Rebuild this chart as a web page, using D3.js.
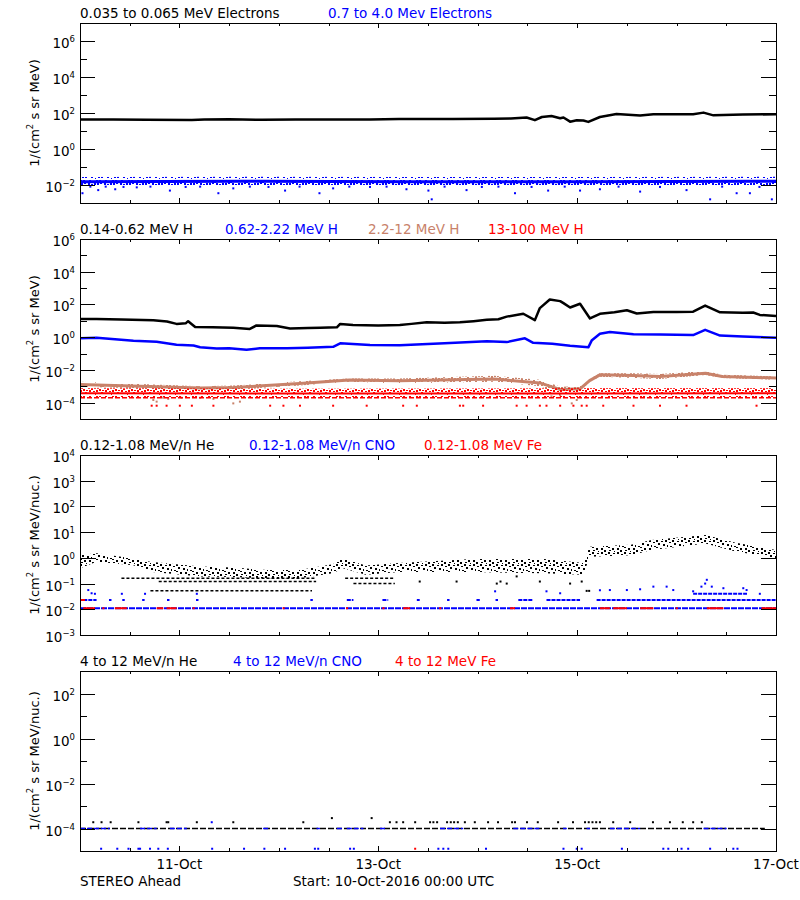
<!DOCTYPE html>
<html>
<head>
<meta charset="utf-8">
<script src="https://cdn.jsdelivr.net/npm/d3@7"></script>
<style>
  body { margin: 0; background: #fff; }
  svg { display: block; font-family: "DejaVu Sans", sans-serif; font-size: 13.5px; }
</style>
</head>
<body>
<script>
// ---- data (hours since 10-Oct-2016 00:00 UTC, flux values) ----
const START = Date.UTC(2016, 9, 10);
const SPAN_H = 168;
const LABEL_DAYS = [1, 3, 5, 7];

// panel 1 : electrons
const E_LOW = [[0,44],[8,43],[16,42],[27,41],[30,44],[36,45],[44,42],[52,43],[60,43],[70,44],[77,46],[90,47],
  [100,48],[104,50],[107.8,56],[109.8,40],[111.5,60],[113.8,68],[115.9,51],[116.7,56],[118.3,33],[119.9,40],
  [121.5,38],[122.7,32],[125.5,60],[129.5,88],[135.2,72],[138.4,85],[148,86],[150.5,105],[152.9,74],
  [160,82],[168,85]];
// [h, lo, core, hi]
const E_HIGH = [[0,0.010,0.015,0.028],[40,0.010,0.016,0.029],[80,0.010,0.015,0.028],
  [120,0.010,0.015,0.028],[168,0.010,0.016,0.029]];
const E_HIGH_PTS = [[0.6,0.0035],[2.5,0.0081],[4.4,0.0052],[6.2,0.0081],[8.5,0.0058],[10.5,0.0078],
  [13.7,0.0074],[17,0.0081],[21.7,0.0049],[25.5,0.0078],[29,0.0081],[33.4,0.0035],[37,0.0065],
  [41,0.0081],[45.5,0.0078],[49.5,0.0049],[53,0.0081],[57.8,0.0035],[61.1,0.0065],[65,0.0081],
  [70,0.0078],[74,0.0081],[78.8,0.0058],[84.1,0.0049],[84.9,0.0016],[88,0.0081],[93.3,0.0052],
  [97,0.0078],[101,0.0081],[105,0.0035],[109,0.0078],[113,0.0049],[117,0.0081],[120.7,0.0049],
  [125.5,0.0058],[130,0.0081],[135.2,0.0043],[140,0.0078],[146.4,0.0052],[152.1,0.0016],
  [155,0.0081],[158.5,0.0035],[161.7,0.0035],[164,0.0078],[167,0.0016]];

// panel 2 : protons
const H_LOW = [[0,13],[4,13],[10,12],[17.7,11],[21,9],[23.3,6.5],[25.5,7],[26.1,9.5],[27.8,4.2],[32,4],[37,3.8],
  [41,3.2],[42.6,5.2],[47.5,4.8],[50.7,3.4],[55,3.6],[58,3.8],[62,4.0],[62.8,6.5],[65.9,5.6],[72,5.2],
  [77.2,5.5],[80,6.5],[83.7,8.1],[88,7.6],[91.7,8.1],[95,9.5],[98.2,11.5],[101,12.5],[103,18],[107,27],
  [109.8,11],[111,60],[113.4,200],[115.9,160],[116.7,120],[118.3,65],[120.7,110],[123.1,14],[125.5,27],
  [129,33],[132,44],[134.4,28],[138.4,35],[144,34],[148,36],[150.9,85],[154.5,33],[160,31],[162.5,32],
  [164.1,23],[168,20]];
const H_MID = [[0,0.85],[4,0.93],[12.9,0.6],[18.5,0.52],[23.3,0.34],[27.4,0.31],[29,0.24],[33,0.2],[36,0.21],
  [40.2,0.17],[43.4,0.21],[50,0.21],[55,0.23],[61.1,0.26],[62.8,0.42],[70,0.33],[77.2,0.32],[88,0.42],
  [98.2,0.57],[103,0.5],[107.4,0.85],[109.4,0.45],[114,0.4],[118.3,0.3],[122.7,0.24],[123.5,0.62],
  [125.5,1.6],[127.9,2.1],[133.6,1.5],[140,1.45],[148,1.35],[150.9,2.8],[154.5,1.25],[160,1.1],[168,0.93]];
const H_TAN = [[0,9.3e-4,1.3e-3,1.9e-3],[29,5.9e-4,7.9e-4,1.0e-3],[37,6.3e-4,8.3e-4,1.1e-3],
  [53,1.1e-3,1.5e-3,2.0e-3],[65,1.9e-3,2.4e-3,3.0e-3],[77,1.5e-3,2.2e-3,3.0e-3],[100,1.9e-3,2.8e-3,4.4e-3],
  [111,1.0e-3,1.6e-3,2.5e-3],[116,3.7e-4,6.3e-4,9.3e-4],[120.7,4.5e-4,7.0e-4,1.0e-3],
  [123,1.9e-3,2.2e-3,2.8e-3],[125.5,3.8e-3,5.0e-3,6.2e-3],[133.6,3.2e-3,4.5e-3,6.3e-3],
  [140,2.8e-3,4.0e-3,5.6e-3],[151,4.9e-3,6.3e-3,8.5e-3],[155,3.2e-3,4.0e-3,5.0e-3],[168,2.5e-3,3.2e-3,4.0e-3]];
const H_TAN_PTS = [[17.7,1.45e-4],[18.5,1.15e-4],[20.1,2e-4],[21.3,1.7e-4],[24.5,2e-4],[29,2e-4],
  [32.2,1.7e-4],[37,9e-5],[38.6,1.15e-4],[113.8,2.4e-4],[115.9,2.8e-4],[118.7,9e-5],[119.9,1.45e-4]];
const H_RED = [[0,2.2e-4,3.7e-4,7.5e-4],[60,2.2e-4,3.6e-4,7.0e-4],[120,2.2e-4,3.6e-4,7.5e-4],[168,2.2e-4,3.7e-4,7.5e-4]];
const H_RED_ROW = [[0,168,2.0e-4]];
const H_RED_PTS = [17.3,18.5,20.9,24.1,27,32.2,45.9,49.1,53.1,61.1,69.2,78,81.3,91.7,92.5,97.3,105.4,
  107.8,111,112.6,115.9,119.1,121.1,122.3,126.3,133.6,140,146.4,163.3].map(h => [h, 6.5e-5]);

// panel 3 : low energy ions
const HE_LOW = [[0,0.39,1.3],[4,0.7,1.5],[12.9,0.52,0.95],[16.9,0.29,0.7],[29,0.19,0.46],[37,0.18,0.42],
  [45,0.16,0.34],[53,0.16,0.34],[61,0.25,0.56],[63.5,0.39,0.95],[69,0.22,0.5],[77,0.28,0.63],
  [95,0.28,0.9],[112,0.25,0.9],[121.5,0.22,0.63],[123,1.1,2.7],[133,1.25,3.2],[138,2.0,4.9],
  [151,3.6,7.8],[158,1.8,4.0],[168,0.95,2.0]];
const HE_ROWS = [[10,57,0.16],[19,57,0.12],[17,56,0.052],[64,76,0.16],[66,76,0.10]];
const HE_PTS = [[82,0.12],[90.9,0.12],[100.6,0.10],[101.5,0.12],[103,0.10],[105.4,0.19],[111,0.12],
  [118.3,0.10],[121.1,0.12],[122.3,0.052],[122.9,0.052]];
const CNO_FLOOR = [[0,168,0.011]];
const CNO_LEVEL = [[0.8,4,0.023],[7,7.6,0.023],[10.2,10.8,0.023],[15,15.6,0.023],[21,21.6,0.023],
  [28,28.6,0.023],[55.6,56.2,0.023],[64.4,66,0.023],[73,74.4,0.023],[81.3,82,0.023],[88.6,89.2,0.023],
  [95.7,96.5,0.023],[100.3,100.9,0.023],[105.8,109.4,0.023],[112.6,120.7,0.023],[124.7,168,0.023],
  [148,161,0.04]];
const CNO_PTS = [[2,0.056],[2.8,0.042],[3.6,0.04],[10.1,0.04],[15.7,0.04],[28.2,0.04],[100.2,0.05],
  [112.6,0.05],[115.9,0.042],[125.5,0.055],[127.9,0.056],[132,0.056],[135.2,0.06],[138.4,0.076],
  [141.6,0.076],[143.2,0.056],[148,0.05],[150,0.076],[150.9,0.10],[151.3,0.14],[152.5,0.076],
  [155.3,0.066],[160.1,0.066],[160.9,0.056],[164.1,0.04]];
const FE_FLOOR = [[0.8,3.6],[5.4,5.9],[8.4,11.3],[18.5,20.1],[20.9,23.3],[27.2,27.7],[48.9,49.4],
  [64.2,64.7],[73,73.5],[78,79.7],[86.7,87.2],[103.8,105],[125.5,127.9],[128.7,132],[135.2,138.4],
  [143.8,144.3],[151.3,155.3],[164.5,168]].map(d => [d[0], d[1], 0.011]);
const FE_LEVEL = [[0,1.2,0.023]];

// panel 4 : high energy ions
const HEH_ROW = [[0,165.3,1e-4]];
const HEH_PTS = [3.2,5.2,7.4,14.1,20.9,21.3,28.2,37.0,53.9,74.8,76.4,78,80.9,84.5,85.3,86.2,88.6,89.5,
  90.3,91.2,92.9,95.3,98.5,100.9,104.3,105,107.9,110.5,115.4,119,121.9,122.8,123.7,124.6,125.5,128.7,
  132.8,138.3,142.4,145.5,148,150.1].map(h => [h, 1.9e-4]).concat([[60.8,2.9e-4],[70.4,2.9e-4]]);
const CNOH_ROW = [[0,7.2],[14.5,18.5],[21.7,25.8],[44.2,45.9],[57.1,57.9],[62,63.6],[64.4,68.4],[72.4,74],
  [86.9,92.5],[104.6,111],[116.6,117.5],[122.3,123.1],[127.9,135.2],[150.5,156.1]].map(d => [d[0], d[1], 1e-4]);
const CNOH_PTS = [5.1,9,11.7,14.1,14.5,16.9,18.9,21.2,31.9,39.6,44.5,49.5,56.7,57.5,65.2,66.1,86.5,87.7,
  88.9,98,116.7,119.9,121.1,130.8,140.8,142,145.2,146.8,152.1,157.7,158.7].map(h => [h, 1.26e-5])
  .concat([[31.8,1.9e-4]]);
const FEH_PTS = [[80.9,1.26e-5]];

const TITLES = [
  [["0.035 to 0.065 MeV Electrons", "#000"], ["0.7 to 4.0 Mev Electrons", "#0000ff"]],
  [["0.14-0.62 MeV H", "#000"], ["0.62-2.22 MeV H", "#0000ff"], ["2.2-12 MeV H", "#c8826a"], ["13-100 MeV H", "#ff0000"]],
  [["0.12-1.08 MeV/n He", "#000"], ["0.12-1.08 MeV/n CNO", "#0000ff"], ["0.12-1.08 MeV Fe", "#ff0000"]],
  [["4 to 12 MeV/n He", "#000"], ["4 to 12 MeV/n CNO", "#0000ff"], ["4 to 12 MeV Fe", "#ff0000"]]
];
const Y_UNITS = [" s sr MeV)", " s sr MeV)", " s sr MeV/nuc.)", " s sr MeV/nuc.)"];

// ---- layout ----
const W = 800, H = 900, L = 80, R = 776, PH = 180;
const TITLE_X = [[80, 328], [80, 225, 368, 488], [80, 249, 424], [80, 233, 395]];
const PANELS = [
  { top: 23,  dom: [1e-3, 1e7], major: [-2, 0, 2, 4, 6], minor: [-3, -1, 1, 3, 5, 7] },
  { top: 239, dom: [1e-5, 1e6], major: [-4, -2, 0, 2, 4, 6], minor: [-5, -3, -1, 1, 3, 5] },
  { top: 455, dom: [1e-3, 1e4], major: [-3, -2, -1, 0, 1, 2, 3, 4], minor: [] },
  { top: 671, dom: [1e-5, 1e3], major: [-4, -2, 0, 2], minor: [-5, -3, -1, 1, 3] }
];

const hr = h => new Date(START + h * 36e5);
const x = d3.scaleUtc().domain([hr(0), hr(SPAN_H)]).range([L, R]);

const svg = d3.select("body").append("svg").attr("width", W).attr("height", H);
const defs = svg.append("defs");

// speckle fills for the scattered bands (irregular tiles)
const SPK_DENSE = [[0,0,2,2],[3,0,2,1],[6,1,2,2],[9,0,2,2],[13,1,2,1],[1,3,2,2],[4,2,2,2],[8,3,2,2],
  [11,4,2,2],[14,3,2,2],[0,6,2,2],[3,5,2,2],[6,6,2,1],[9,6,2,2],[13,7,2,1],[2,9,2,1],[5,8,2,2],[11,9,2,1],[15,10,1,1]];
const SPK_SPARSE = [[0,0,2,2],[5,1,2,1],[9,0,2,2],[13,2,2,1],[2,3,2,2],[7,4,2,2],[11,5,1,2],[14,6,2,1],
  [0,7,2,1],[4,8,2,2],[9,8,2,2],[1,10,2,1],[6,11,1,1],[12,10,2,2]];
function speckle(id, color, tile) {
  defs.append("pattern").attr("id", id).attr("width", 16).attr("height", 12)
    .attr("patternUnits", "userSpaceOnUse")
    .selectAll("rect").data(tile).join("rect")
    .attr("x", d => d[0]).attr("y", d => d[1]).attr("width", d => d[2]).attr("height", d => d[3])
    .attr("fill", color);
}
speckle("spk-k", "#000", SPK_SPARSE); speckle("spk-b", "#0000ff", SPK_DENSE);
speckle("spk-t", "#c8826a", SPK_DENSE); speckle("spk-r", "#ff0000", SPK_DENSE);

function makePanel(i) {
  const cfg = PANELS[i], top = cfg.top, bot = top + PH;
  const y = d3.scaleLog().domain(cfg.dom).range([bot, top]);
  const g = svg.append("g");
  defs.append("clipPath").attr("id", "clip" + i)
    .append("rect").attr("x", L).attr("y", top).attr("width", R - L).attr("height", PH);
  const plot = g.append("g").attr("clip-path", `url(#clip${i})`);

  // y ticks (both sides, inward)
  const maj = cfg.major.map(e => 10 ** e), mnr = cfg.minor.map(e => 10 ** e);
  const yAx = (axis, vals, len, tx) => g.append("g").attr("transform", `translate(${tx},0)`)
    .call(axis(y).tickValues(vals).tickSizeInner(-len).tickSizeOuter(0).tickFormat(""))
    .call(s => s.select(".domain").remove());
  yAx(d3.axisLeft, maj, 15, L); yAx(d3.axisLeft, mnr, 7, L);
  yAx(d3.axisRight, maj, 15, R); yAx(d3.axisRight, mnr, 7, R);

  // x ticks (top and bottom, inward)
  const minorT = d3.utcHour.every(12).range(hr(0), hr(SPAN_H + 1));
  const majorT = LABEL_DAYS.map(d => hr(d * 24));
  const xAx = (axis, vals, len, ty) => g.append("g").attr("transform", `translate(0,${ty})`)
    .call(axis(x).tickValues(vals).tickSizeInner(-len).tickSizeOuter(0).tickFormat(""))
    .call(s => s.select(".domain").remove());
  xAx(d3.axisBottom, minorT, 3, bot); xAx(d3.axisBottom, majorT, 5, bot);
  xAx(d3.axisTop, minorT, 3, top); xAx(d3.axisTop, majorT, 5, top);
  g.selectAll(".tick line").attr("stroke", "#000").attr("shape-rendering", "crispEdges");

  g.append("rect").attr("x", L + 0.5).attr("y", top + 0.5).attr("width", R - L).attr("height", PH)
    .attr("fill", "none").attr("stroke", "#000").attr("shape-rendering", "crispEdges");

  // y tick labels 10^n
  const lab = g.selectAll(".ylab").data(cfg.major).join("text")
    .attr("x", 75).attr("y", e => y(10 ** e) + 7).attr("text-anchor", "end").attr("fill", "#000");
  lab.append("tspan").text("10");
  lab.append("tspan").attr("dy", -6).attr("font-size", "8.5px").text(e => e < 0 ? "\u2212" + (-e) : e);

  // y axis title
  const cy = (top + bot) / 2;
  const yt = g.append("text").attr("transform", `translate(39,${cy}) rotate(-90)`)
    .attr("text-anchor", "middle").attr("font-size", "13px");
  yt.append("tspan").text("1/(cm");
  yt.append("tspan").attr("dy", -6).attr("font-size", "8.5px").text("2");
  yt.append("tspan").attr("dy", 6).text(Y_UNITS[i]);

  // panel titles
  TITLES[i].forEach((t, k) => g.append("text").attr("x", TITLE_X[i][k]).attr("y", top - 5.5)
    .attr("fill", t[1]).text(t[0]));

  return { y, plot };
}

function line(p, data, color, w) {
  p.plot.append("path").datum(data).attr("fill", "none").attr("stroke", color)
    .attr("stroke-width", w).attr("stroke-linejoin", "round")
    .attr("d", d3.line().x(d => x(hr(d[0]))).y(d => p.y(d[1])));
}
function band(p, data, color, pat, core) {
  p.plot.append("path").datum(data).attr("fill", `url(#${pat})`)
    .attr("d", d3.area().x(d => x(hr(d[0]))).y0(d => p.y(d[1])).y1(d => p.y(d[d.length - 1])));
  if (core) line(p, data.map(d => [d[0], d[2]]), color, core);
}
function segs(p, data, color, w, dash) {
  p.plot.append("g").selectAll("line").data(data).join("line")
    .attr("x1", d => x(hr(d[0]))).attr("x2", d => x(hr(d[1])))
    .attr("y1", d => p.y(d[2])).attr("y2", d => p.y(d[2]))
    .attr("stroke", color).attr("stroke-width", w).attr("stroke-dasharray", dash);
}
function pts(p, data, color) {
  p.plot.append("g").selectAll("rect").data(data).join("rect")
    .attr("x", d => x(hr(d[0])) - 1).attr("y", d => p.y(d[1]) - 1)
    .attr("width", 2).attr("height", 2).attr("fill", color);
}

const p1 = makePanel(0), p2 = makePanel(1), p3 = makePanel(2), p4 = makePanel(3);

// panel 1
line(p1, E_LOW, "#000", 2.5);
band(p1, E_HIGH, "#0000ff", "spk-b", 3);
pts(p1, E_HIGH_PTS, "#0000ff");

// panel 2
line(p2, H_LOW, "#000", 2.5);
line(p2, H_MID, "#0000ff", 2.5);
band(p2, H_TAN, "#c8826a", "spk-t", 3);
pts(p2, H_TAN_PTS, "#c8826a");
band(p2, H_RED, "#ff0000", "spk-r", 2);
segs(p2, H_RED_ROW, "#ff0000", 1.5, "5 2");
pts(p2, H_RED_PTS, "#ff0000");

// panel 3
band(p3, HE_LOW, "#000", "spk-k", 0);
segs(p3, HE_ROWS, "#000", 1.5, "3 2");
pts(p3, HE_PTS, "#000");
segs(p3, CNO_LEVEL, "#0000ff", 2, "4 1");
pts(p3, CNO_PTS, "#0000ff");
segs(p3, CNO_FLOOR, "#0000ff", 2, "6 1");
segs(p3, FE_FLOOR, "#ff0000", 2, null);
segs(p3, FE_LEVEL, "#ff0000", 2, null);

// panel 4
segs(p4, HEH_ROW, "#000", 1.5, "6 2");
pts(p4, HEH_PTS, "#000");
segs(p4, CNOH_ROW, "#0000ff", 1.5, "5 2");
pts(p4, CNOH_PTS, "#0000ff");
pts(p4, FEH_PTS, "#ff0000");

// bottom labels
const bot4 = PANELS[3].top + PH;
svg.append("g").selectAll("text").data(LABEL_DAYS).join("text")
  .attr("x", d => x(hr(d * 24))).attr("y", bot4 + 18).attr("text-anchor", "middle")
  .text(d => d3.utcFormat("%d-%b")(hr(d * 24)));
svg.append("text").attr("x", 80).attr("y", bot4 + 34.5).text("STEREO Ahead");
svg.append("text").attr("x", 293).attr("y", bot4 + 34.5).text("Start: 10-Oct-2016 00:00 UTC");
</script>
</body>
</html>
